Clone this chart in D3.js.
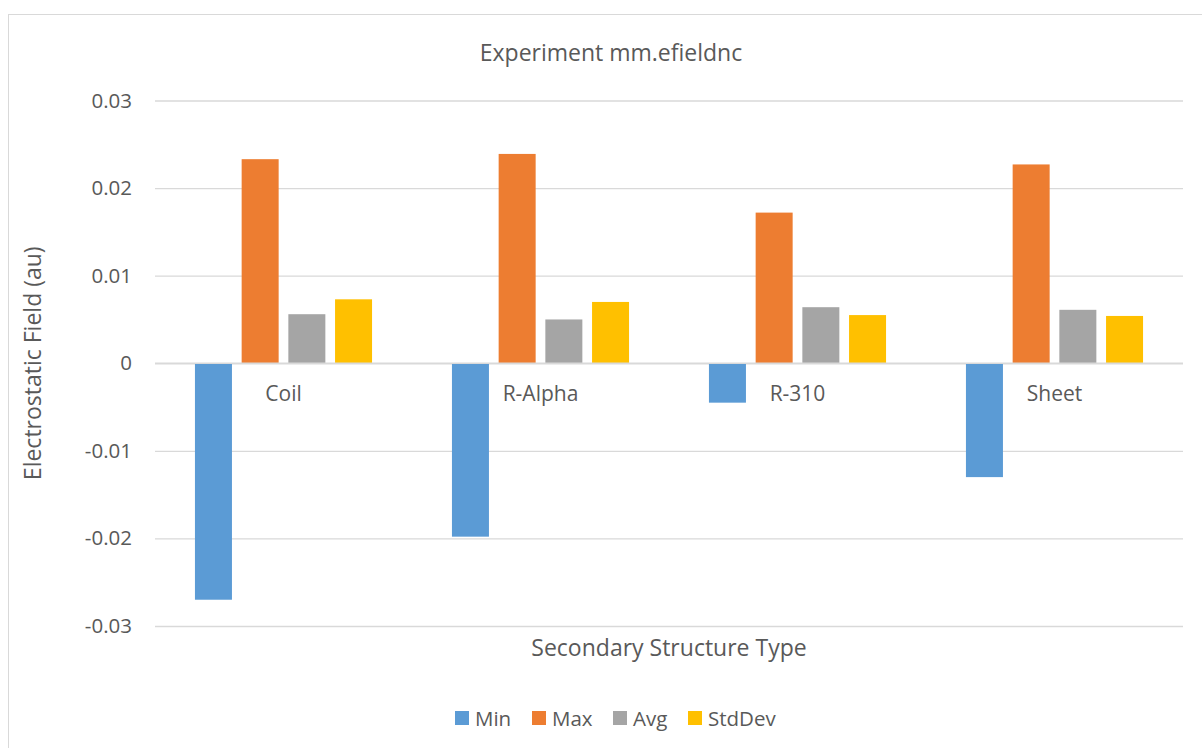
<!DOCTYPE html>
<html>
<head>
<meta charset="utf-8">
<script src="https://cdn.jsdelivr.net/npm/d3@7"></script>
<style>
  html, body { margin: 0; padding: 0; background: #fff; }
  svg { display: block; }
  text { font-family: "Open Sans", "Noto Sans", sans-serif; fill: #595959; }
</style>
</head>
<body>
<svg id="chart" width="1202" height="748"></svg>
<script>
// Secondary structure categories and per-type field statistics (au)
const categories = ["Coil", "R-Alpha", "R-310", "Sheet"];
const seriesNames = ["Min", "Max", "Avg", "StdDev"];
const minValues = [-0.0270, -0.0198, -0.0045, -0.0130];
const maxValues = [0.0233, 0.0239, 0.0172, 0.0227];
const avgValues = [0.0056, 0.0050, 0.0064, 0.0061];
const stdDevValues = [0.0073, 0.0070, 0.0055, 0.0054];
const yTicks = [-0.03, -0.02, -0.01, 0, 0.01, 0.02, 0.03];
const colors = ["#5b9bd5", "#ed7d31", "#a5a5a5", "#ffc000"];

const seriesValues = [minValues, maxValues, avgValues, stdDevValues];
const rows = categories.map((c, i) => ({
  category: c,
  values: seriesNames.map((s, j) => ({ series: s, value: seriesValues[j][i] }))
}));

const svg = d3.select("#chart");

// Chart frame
svg.append("rect")
  .attr("x", 8.5).attr("y", 14.5)
  .attr("width", 1200).attr("height", 740)
  .attr("fill", "#fff").attr("stroke", "#d9d9d9").attr("stroke-width", 1);

const plot = { left: 155, right: 1183, top: 100.5, bottom: 626 };

const x = d3.scaleBand()
  .domain(categories)
  .range([plot.left, plot.right])
  .paddingInner(0).paddingOuter(0);

const y = d3.scaleLinear()
  .domain([-0.03, 0.03])
  .range([plot.bottom, plot.top]);

// Grouped bars: 4 bars per category, ~37px wide with ~10px gaps
const barW = 37, barGap = 9.7;
const groupW = seriesNames.length * barW + (seriesNames.length - 1) * barGap;
const xInner = d3.scaleBand()
  .domain(seriesNames)
  .range([0, groupW])
  .paddingInner(barGap / (barW + barGap))
  .paddingOuter(0);

// Gridlines
const grid = d3.axisLeft(y).tickValues(yTicks).tickSize(-(plot.right - plot.left)).tickFormat("");
svg.append("g")
  .attr("transform", `translate(${plot.left},0)`)
  .call(grid)
  .call(g => g.select(".domain").remove())
  .call(g => g.selectAll("line").attr("stroke", "#d9d9d9").attr("stroke-width", 1.3));

// Y tick labels (plain hyphen for negatives)
const yAxis = d3.axisLeft(y).tickValues(yTicks).tickSize(0).tickPadding(0)
  .tickFormat(d => d === 0 ? "0" : d.toFixed(2));
svg.append("g")
  .attr("transform", `translate(${plot.left - 23},0)`)
  .call(yAxis)
  .call(g => g.select(".domain").remove())
  .call(g => g.selectAll("text")
    .attr("font-size", 20.5)
    .style("font-family", "'Open Sans', sans-serif")
    .attr("fill", "#595959"));

// Bars
const groups = svg.append("g").selectAll("g")
  .data(rows)
  .join("g")
  .attr("transform", d => `translate(${x(d.category) + (x.bandwidth() - groupW) / 2},0)`);

groups.selectAll("rect")
  .data(d => d.values)
  .join("rect")
  .attr("x", d => xInner(d.series))
  .attr("width", xInner.bandwidth())
  .attr("y", d => y(Math.max(0, d.value)))
  .attr("height", d => Math.abs(y(d.value) - y(0)))
  .attr("fill", (d, i) => colors[i]);

// Zero line on top of bars
svg.append("line")
  .attr("x1", plot.left).attr("x2", plot.right)
  .attr("y1", y(0)).attr("y2", y(0))
  .attr("stroke", "#d9d9d9").attr("stroke-width", 1.3);

// Category labels next to the zero axis
svg.append("g").selectAll("text")
  .data(categories)
  .join("text")
  .attr("x", d => x(d) + x.bandwidth() / 2)
  .attr("y", y(0) + 38)
  .attr("text-anchor", "middle")
  .attr("font-size", 21)
  .text(d => d);

// Title
svg.append("text")
  .attr("x", 611).attr("y", 61)
  .attr("text-anchor", "middle")
  .attr("font-size", 23)
  .text("Experiment mm.efieldnc");

// Axis titles
svg.append("text")
  .attr("transform", `translate(41,${(plot.top + plot.bottom) / 2}) rotate(-90)`)
  .attr("text-anchor", "middle")
  .attr("font-size", 23)
  .text("Electrostatic Field (au)");

svg.append("text")
  .attr("x", (plot.left + plot.right) / 2)
  .attr("y", 656)
  .attr("text-anchor", "middle")
  .attr("font-size", 23)
  .text("Secondary Structure Type");

// Legend
const legendX = [455, 532, 613, 688];
const legend = svg.append("g").selectAll("g")
  .data(seriesNames)
  .join("g")
  .attr("transform", (d, i) => `translate(${legendX[i]},711)`);
legend.append("rect")
  .attr("width", 14).attr("height", 14)
  .attr("fill", (d, i) => colors[i]);
legend.append("text")
  .attr("x", 20).attr("y", 14.5)
  .attr("font-size", 20.5)
  .text(d => d);
</script>
</body>
</html>
